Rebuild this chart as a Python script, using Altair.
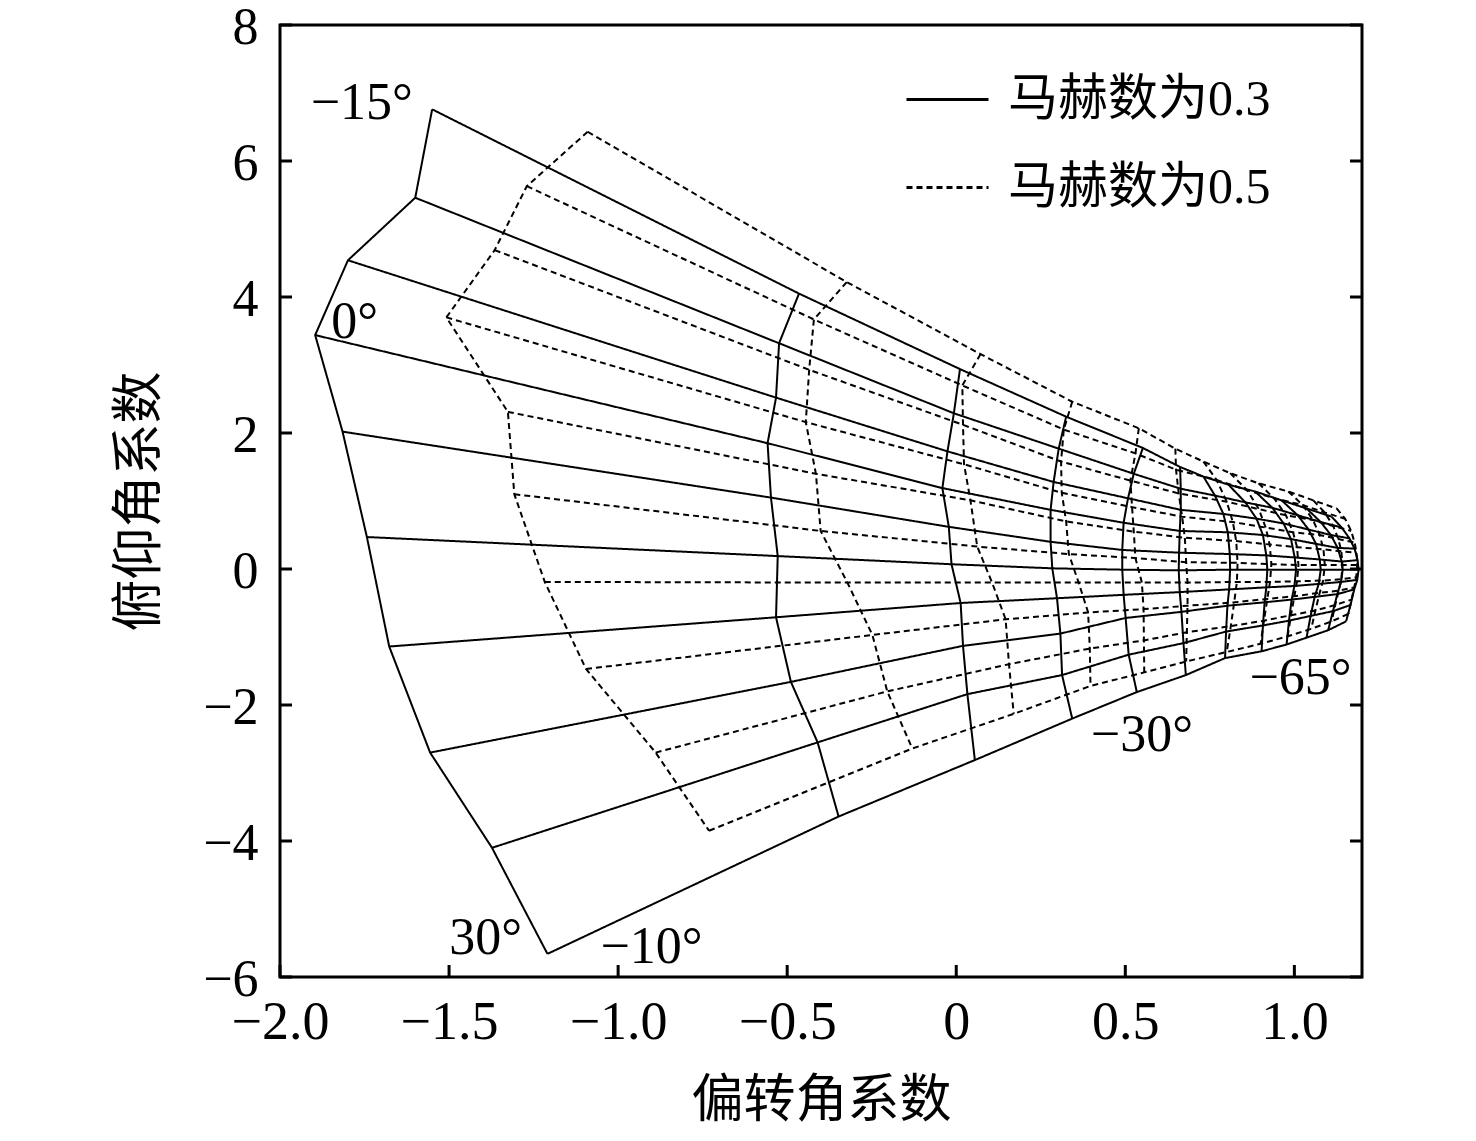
import altair as alt
import pandas as pd

PITCH = [-15, -10, -5, 0, 5, 10, 15, 20, 25, 30]
YAW = [-10, -15, -20, -25, -30, -35, -40, -45, -50, -55, -60, -65]
SERIES = ["马赫数为0.3", "马赫数为0.5"]
XTICKS = [-2.0, -1.5, -1.0, -0.5, 0.0, 0.5, 1.0]
YTICKS = [-6, -4, -2, 0, 2, 4, 6, 8]

# Mach 0.3 (solid): one row per yaw curve, values at pitch -15..30
S_X = [
    [-1.550, -1.600, -1.799, -1.896, -1.815, -1.743, -1.677, -1.556, -1.373, -1.209],
    [-0.465, -0.524, -0.533, -0.558, -0.548, -0.528, -0.533, -0.489, -0.410, -0.348],
    [0.011, -0.007, -0.026, -0.041, -0.022, -0.014, 0.013, 0.020, 0.033, 0.055],
    [0.325, 0.303, 0.288, 0.279, 0.279, 0.284, 0.298, 0.308, 0.313, 0.343],
    [0.552, 0.525, 0.508, 0.495, 0.491, 0.491, 0.495, 0.501, 0.510, 0.534],
    [0.662, 0.664, 0.664, 0.661, 0.659, 0.658, 0.661, 0.666, 0.672, 0.679],
    [0.731, 0.765, 0.790, 0.803, 0.809, 0.810, 0.807, 0.802, 0.798, 0.795],
    [0.805, 0.855, 0.888, 0.907, 0.917, 0.920, 0.917, 0.912, 0.907, 0.903],
    [0.884, 0.935, 0.968, 0.990, 1.001, 1.005, 1.000, 0.992, 0.984, 0.977],
    [0.962, 1.010, 1.042, 1.064, 1.075, 1.078, 1.072, 1.060, 1.048, 1.036],
    [1.036, 1.078, 1.108, 1.128, 1.140, 1.143, 1.138, 1.127, 1.114, 1.100],
    [1.110, 1.140, 1.163, 1.178, 1.187, 1.190, 1.186, 1.177, 1.166, 1.153],
]
S_Y = [
    [6.76, 5.46, 4.54, 3.44, 2.02, 0.47, -1.14, -2.70, -4.10, -5.66],
    [4.05, 3.32, 2.52, 1.85, 1.05, 0.19, -0.71, -1.66, -2.55, -3.64],
    [2.94, 2.29, 1.73, 1.19, 0.62, 0.07, -0.50, -1.13, -1.84, -2.81],
    [2.24, 1.77, 1.28, 0.87, 0.40, 0.01, -0.43, -0.95, -1.56, -2.20],
    [1.78, 1.40, 1.04, 0.68, 0.28, -0.01, -0.38, -0.72, -1.26, -1.81],
    [1.50, 1.18, 0.87, 0.56, 0.24, -0.02, -0.34, -0.63, -1.09, -1.56],
    [1.36, 1.08, 0.81, 0.54, 0.22, -0.01, -0.30, -0.54, -0.92, -1.31],
    [1.24, 0.98, 0.74, 0.50, 0.20, -0.01, -0.27, -0.49, -0.83, -1.21],
    [1.14, 0.90, 0.67, 0.44, 0.17, -0.01, -0.25, -0.45, -0.76, -1.11],
    [1.01, 0.79, 0.58, 0.37, 0.14, -0.01, -0.22, -0.41, -0.69, -1.01],
    [0.89, 0.69, 0.50, 0.31, 0.11, -0.01, -0.19, -0.37, -0.62, -0.90],
    [0.77, 0.61, 0.45, 0.30, 0.13, -0.01, -0.16, -0.30, -0.53, -0.77],
]

# Mach 0.5 (dashed)
D_X = [
    [-1.090, -1.270, -1.365, -1.508, -1.326, -1.307, -1.217, -1.095, -0.889, -0.731],
    [-0.324, -0.421, -0.435, -0.445, -0.415, -0.401, -0.322, -0.248, -0.204, -0.130],
    [0.072, 0.018, 0.020, 0.023, 0.042, 0.062, 0.106, 0.146, 0.156, 0.170],
    [0.343, 0.318, 0.310, 0.312, 0.325, 0.333, 0.362, 0.390, 0.395, 0.397],
    [0.540, 0.530, 0.515, 0.520, 0.525, 0.530, 0.549, 0.554, 0.555, 0.556],
    [0.648, 0.650, 0.658, 0.668, 0.676, 0.680, 0.684, 0.684, 0.682, 0.680],
    [0.731, 0.770, 0.800, 0.818, 0.828, 0.832, 0.830, 0.822, 0.812, 0.800],
    [0.810, 0.860, 0.895, 0.915, 0.927, 0.932, 0.928, 0.920, 0.910, 0.900],
    [0.894, 0.940, 0.975, 0.996, 1.008, 1.012, 1.008, 1.000, 0.990, 0.980],
    [0.982, 1.025, 1.055, 1.075, 1.086, 1.090, 1.085, 1.075, 1.062, 1.050],
    [1.056, 1.090, 1.115, 1.130, 1.139, 1.142, 1.139, 1.131, 1.121, 1.110],
    [1.125, 1.150, 1.168, 1.178, 1.184, 1.186, 1.183, 1.177, 1.169, 1.160],
]
D_Y = [
    [6.43, 5.63, 4.69, 3.70, 2.31, 1.10, -0.19, -1.47, -2.70, -3.85],
    [4.22, 3.67, 2.93, 2.16, 1.40, 0.56, -0.20, -0.97, -1.80, -2.64],
    [3.16, 2.70, 2.12, 1.54, 1.01, 0.33, -0.20, -0.74, -1.40, -2.13],
    [2.46, 2.05, 1.58, 1.12, 0.70, 0.22, -0.20, -0.64, -1.17, -1.72],
    [2.07, 1.70, 1.30, 0.91, 0.55, 0.16, -0.20, -0.59, -1.05, -1.52],
    [1.77, 1.46, 1.11, 0.77, 0.46, 0.10, -0.20, -0.54, -0.93, -1.36],
    [1.58, 1.31, 0.99, 0.69, 0.41, 0.09, -0.19, -0.49, -0.84, -1.22],
    [1.41, 1.16, 0.88, 0.61, 0.36, 0.07, -0.19, -0.44, -0.76, -1.10],
    [1.26, 1.04, 0.79, 0.54, 0.32, 0.06, -0.18, -0.40, -0.68, -0.99],
    [1.14, 0.94, 0.72, 0.50, 0.29, 0.06, -0.17, -0.35, -0.61, -0.88],
    [1.01, 0.83, 0.63, 0.44, 0.26, 0.06, -0.15, -0.32, -0.53, -0.77],
    [0.89, 0.74, 0.56, 0.39, 0.24, 0.06, -0.12, -0.27, -0.45, -0.66],
]

LABELS = ["−15°", "0°", "30°", "−10°", "−30°", "−65°"]
LABEL_X = [-1.758, -1.779, -1.392, -0.901, 0.549, 1.018]
LABEL_Y = [6.85, 3.63, -5.43, -5.56, -2.44, -1.60]

rows = []
for name, X, Y in [(SERIES[0], S_X, S_Y), (SERIES[1], D_X, D_Y)]:
    for j, yaw in enumerate(YAW):
        for i, p in enumerate(PITCH):
            rows.append(dict(series=name, line=f"{name}|yaw{yaw}", order=i, x=X[j][i], y=Y[j][i]))
    for i, p in enumerate(PITCH):
        for j, yaw in enumerate(YAW):
            rows.append(dict(series=name, line=f"{name}|pitch{p}", order=j, x=X[j][i], y=Y[j][i]))
df = pd.DataFrame(rows)

W, H = 1082, 952
TICK = 12
SERIF = "Liberation Serif"
CJK = "Noto Sans CJK SC"

xs = alt.Scale(domain=[-2, 1.2], nice=False, zero=False)
ys = alt.Scale(domain=[-6, 8], nice=False, zero=False)

XAX = alt.Axis(values=XTICKS, title="偏转角系数", labelFlush=False, labelOverlap=False,
               labelExpr="datum.value == 0 ? '0' : replace(format(datum.value, '.1f'), '-', '−')",
               labelPadding=18, titlePadding=26, labelFontSize=54)
YAX = alt.Axis(values=YTICKS, title="俯仰角系数", labelFlush=False, labelOverlap=False,
               labelExpr="replace(format(datum.value, 'd'), '-', '−')",
               labelPadding=22, titlePadding=36, labelFontSize=52, labelOffset=2)

X_ENC = alt.X("x:Q", scale=xs, axis=XAX)
Y_ENC = alt.Y("y:Q", scale=ys, axis=YAX)

lines = alt.Chart(df).mark_line(color="black", strokeWidth=2, clip=True).encode(
    x=X_ENC,
    y=Y_ENC,
    detail="line:N",
    order="order:Q",
    strokeDash=alt.StrokeDash(
        "series:N",
        scale=alt.Scale(domain=SERIES, range=[[1, 0], [6, 4]]),
        legend=alt.Legend(title=None, orient="none", legendX=625, legendY=32,
                          symbolType="stroke", symbolSize=6724, symbolStrokeWidth=3,
                          symbolStrokeColor="black", labelFont=f"{SERIF}, {CJK}",
                          labelFontSize=50, labelOffset=18, rowPadding=20, padding=0,
                          labelColor="black", labelLimit=0),
    ),
)

xt_df = pd.DataFrame({"x": XTICKS})
yt_df = pd.DataFrame({"y": YTICKS})
tick_x = alt.Chart(xt_df).mark_rule(color="black", strokeWidth=3).encode(
    x=X_ENC, y=alt.value(H), y2=alt.value(H - TICK))
tick_yl = alt.Chart(yt_df).mark_rule(color="black", strokeWidth=3).encode(
    y=Y_ENC, x=alt.value(0), x2=alt.value(TICK))
tick_yr = alt.Chart(yt_df).mark_rule(color="black", strokeWidth=3).encode(
    y=Y_ENC, x=alt.value(W - TICK), x2=alt.value(W))

ann_df = pd.DataFrame({"x": LABEL_X, "y": LABEL_Y, "label": LABELS})
ann = alt.Chart(ann_df).mark_text(font=SERIF, fontSize=52, color="black").encode(
    x=X_ENC, y=Y_ENC, text="label:N")

chart = alt.layer(lines, tick_x, tick_yl, tick_yr, ann).properties(
    width=W, height=H,
    autosize=alt.AutoSizeParams(type="none"),
    padding={"left": 272, "top": 17, "right": 100, "bottom": 156},
    background="white",
).configure_view(stroke="black", strokeWidth=3).configure_axis(
    labelFont=SERIF, labelColor="black",
    titleFont=CJK, titleFontSize=52, titleFontWeight="normal", titleColor="black",
    grid=False, ticks=False, tickSize=0, domain=False,
)

chart.save("out.html", embed_options={"renderer": "svg", "actions": False})
